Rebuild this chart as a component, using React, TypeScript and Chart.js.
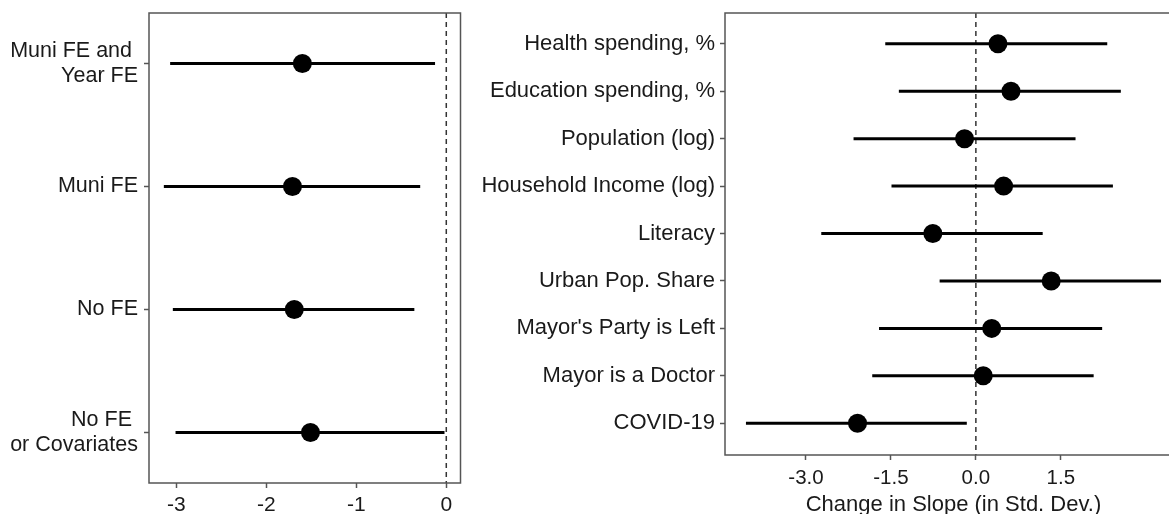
import React, { useEffect, useRef } from "react";
import { Chart, registerables } from "chart.js";

Chart.register(...registerables);

// ---------- Data ----------
const leftCategories: (string | string[])[] = [
  ["Muni FE and ", "Year FE"],
  "Muni FE",
  "No FE",
  ["No FE ", "or Covariates"],
];
const leftEstimates = [-1.6, -1.71, -1.69, -1.51];
const leftLower = [-3.07, -3.14, -3.04, -3.01];
const leftUpper = [-0.125, -0.29, -0.355, -0.02];
const leftTicks = [-3, -2, -1, 0];

const rightCategories: string[] = [
  "Health spending, %",
  "Education spending, %",
  "Population (log)",
  "Household Income (log)",
  "Literacy",
  "Urban Pop. Share",
  "Mayor's Party is Left",
  "Mayor is a Doctor",
  "COVID-19",
];
const rightEstimates = [0.39, 0.62, -0.2, 0.49, -0.76, 1.33, 0.28, 0.13, -2.09];
const rightLower = [-1.6, -1.36, -2.16, -1.49, -2.73, -0.64, -1.71, -1.83, -4.06];
const rightUpper = [2.32, 2.56, 1.76, 2.42, 1.18, 3.27, 2.23, 2.08, -0.16];
const rightTicks = [-3.0, -1.5, 0.0, 1.5];
const rightTitle = "Change in Slope (in Std. Dev.)";

// ---------- Styling ----------
const FONT = "'Liberation Sans', Arial, Helvetica, sans-serif";
const TEXT = "#1a1a1a";
const FRAME = "#555555";

const framePlugin = {
  id: "frame",
  beforeDatasetsDraw(chart: any) {
    const { ctx, chartArea: a, scales } = chart;
    const x0 = scales.x.getPixelForValue(0);
    ctx.save();
    ctx.strokeStyle = "#333333";
    ctx.lineWidth = 1.5;
    ctx.setLineDash([5, 4]);
    ctx.beginPath();
    ctx.moveTo(x0, a.top);
    ctx.lineTo(x0, a.bottom);
    ctx.stroke();
    ctx.restore();
  },
  afterDatasetsDraw(chart: any) {
    const { ctx, chartArea: a } = chart;
    ctx.save();
    ctx.strokeStyle = FRAME;
    ctx.lineWidth = 1.5;
    ctx.strokeRect(a.left, a.top, a.right - a.left, a.bottom - a.top);
    ctx.restore();
  },
};

type Spec = {
  categories: (string | string[])[];
  est: number[];
  lo: number[];
  hi: number[];
  ticks: number[];
  fmt: (v: number) => string;
  xMin: number;
  xMax: number;
  yMin: number;
  yMax: number;
  yAxisWidth: number;
  xAxisHeight: number;
  padding: { top: number; right: number; left: number; bottom: number };
  labelSize: number;
  labelPad: number;
  tickSize: number;
  tickPad: number;
  title?: string;
};

function clearPadding(axis: any) {
  axis.paddingTop = 0;
  axis.paddingBottom = 0;
  axis.paddingLeft = 0;
  axis.paddingRight = 0;
}

function buildConfig(s: Spec): any {
  const datasets: any[] = [];
  s.categories.forEach((_, i) => {
    datasets.push({
      showLine: true,
      data: [
        { x: s.lo[i], y: i + 1 },
        { x: s.hi[i], y: i + 1 },
      ],
      borderColor: "#000000",
      borderWidth: 3,
      borderCapStyle: "butt",
      pointRadius: 0,
      fill: false,
    });
  });
  datasets.push({
    data: s.est.map((v, i) => ({ x: v, y: i + 1 })),
    backgroundColor: "#000000",
    borderWidth: 0,
    pointRadius: 9.5,
    pointStyle: "circle",
  });

  return {
    type: "scatter",
    data: { datasets },
    plugins: [framePlugin],
    options: {
      responsive: false,
      animation: false,
      devicePixelRatio: 1,
      events: [],
      layout: { padding: s.padding },
      plugins: { legend: { display: false }, tooltip: { enabled: false } },
      scales: {
        x: {
          type: "linear",
          min: s.xMin,
          max: s.xMax,
          afterBuildTicks: (axis: any) => {
            axis.ticks = s.ticks.map((v) => ({ value: v }));
          },
          afterFit: (axis: any) => {
            axis.height = s.xAxisHeight;
            clearPadding(axis);
          },
          ticks: {
            autoSkip: false,
            maxRotation: 0,
            minRotation: 0,
            padding: s.tickPad,
            color: TEXT,
            font: { family: FONT, size: s.tickSize, lineHeight: 1.2 },
            callback: (v: any) => s.fmt(Number(v)),
          },
          grid: {
            drawOnChartArea: false,
            drawTicks: true,
            tickLength: 5,
            tickColor: FRAME,
            tickWidth: 1.5,
            color: FRAME,
          },
          border: { display: false },
          title: s.title
            ? {
                display: true,
                text: s.title,
                color: TEXT,
                font: { family: FONT, size: s.labelSize, lineHeight: 0.8 },
                padding: { top: 0, bottom: 0 },
              }
            : { display: false },
        },
        y: {
          type: "linear",
          reverse: true,
          min: s.yMin,
          max: s.yMax,
          afterBuildTicks: (axis: any) => {
            axis.ticks = s.categories.map((_, i) => ({ value: i + 1 }));
          },
          afterFit: (axis: any) => {
            axis.width = s.yAxisWidth;
            clearPadding(axis);
          },
          ticks: {
            autoSkip: false,
            padding: s.labelPad,
            color: TEXT,
            font: { family: FONT, size: s.labelSize, lineHeight: 1.15 },
            callback: (v: any) => s.categories[Math.round(Number(v)) - 1],
          },
          grid: {
            drawOnChartArea: false,
            drawTicks: true,
            tickLength: 5,
            tickColor: FRAME,
            tickWidth: 1.5,
            color: FRAME,
          },
          border: { display: false },
        },
      },
    },
  };
}

const leftSpec: Spec = {
  categories: leftCategories,
  est: leftEstimates,
  lo: leftLower,
  hi: leftUpper,
  ticks: leftTicks,
  fmt: (v) => String(v),
  xMin: -3.305,
  xMax: 0.158,
  yMin: 0.59,
  yMax: 4.41,
  yAxisWidth: 149,
  xAxisHeight: 31,
  padding: { top: 13, right: 8, left: 0, bottom: 0 },
  labelSize: 21.5,
  labelPad: 6,
  tickSize: 21,
  tickPad: 5,
};

const rightSpec: Spec = {
  categories: rightCategories,
  est: rightEstimates,
  lo: rightLower,
  hi: rightUpper,
  ticks: rightTicks,
  fmt: (v) => v.toFixed(1),
  xMin: -4.43,
  xMax: 3.64,
  yMin: 0.35,
  yMax: 9.67,
  yAxisWidth: 255,
  xAxisHeight: 59,
  padding: { top: 13, right: 18, left: 0, bottom: 0 },
  labelSize: 22,
  labelPad: 5,
  tickSize: 20.5,
  tickPad: 6,
  title: rightTitle,
};

function Panel(props: { spec: Spec; left: number; viewW: number; canvasW: number; height: number }) {
  const ref = useRef<HTMLCanvasElement>(null);
  useEffect(() => {
    const chart = new Chart(ref.current as HTMLCanvasElement, buildConfig(props.spec));
    return () => chart.destroy();
  }, []);
  return (
    <div
      style={{
        position: "absolute",
        left: props.left,
        top: 0,
        width: props.viewW,
        height: props.height,
        overflow: "hidden",
      }}
    >
      <canvas
        ref={ref}
        width={props.canvasW}
        height={props.height}
        style={{ display: "block", width: props.canvasW, height: props.height }}
      />
    </div>
  );
}

export default function App() {
  useEffect(() => {
    document.body.style.margin = "0";
    document.body.style.overflow = "hidden";
    document.body.style.background = "#ffffff";
  }, []);
  return (
    <div style={{ position: "relative", width: 1169, height: 514, background: "#ffffff", overflow: "hidden" }}>
      <Panel spec={leftSpec} left={0} viewW={470} canvasW={470} height={514} />
      <Panel spec={rightSpec} left={470} viewW={699} canvasW={730} height={514} />
    </div>
  );
}
